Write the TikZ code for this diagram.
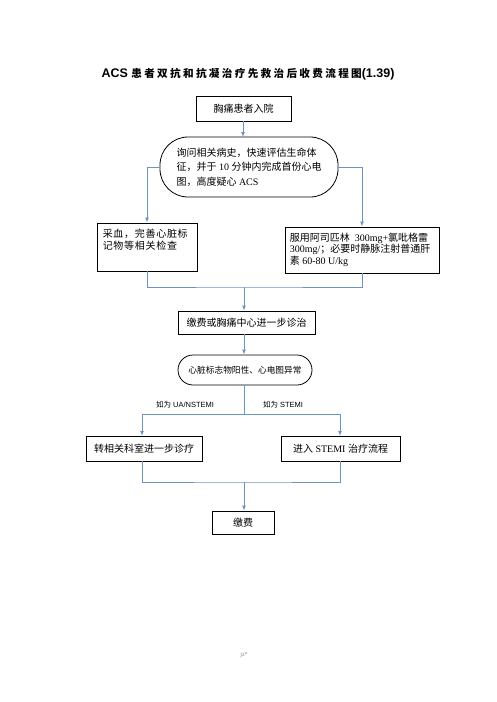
\documentclass[tikz,border=0pt]{standalone}
\usepackage{fontspec}
\setmainfont{Liberation Serif}
\setsansfont{Liberation Sans}
\newfontfamily\cjk{Noto Sans CJK SC}
\newfontfamily\cjkwide[LetterSpace=7]{Noto Sans CJK SC}
\newfontfamily\cjktitle[LetterSpace=22]{Noto Sans CJK SC Bold}
\usetikzlibrary{arrows.meta,positioning}
\definecolor{flowblue}{HTML}{6A93C6}
\newcommand{\zh}[1]{{\cjk #1}}

\begin{document}
\begin{tikzpicture}[x=1pt,y=-1pt,>={Latex[length=5pt,width=4pt]},font=\fontsize{10}{12}\selectfont]
\tikzstyle{box}=[draw,line width=0.8pt,inner sep=3pt,align=center]
\tikzstyle{capsule}=[draw,line width=0.8pt,align=left,inner sep=2pt]
\tikzstyle{link}=[flowblue,line width=1pt]
\tikzstyle{cond}=[font=\sffamily\fontsize{7.5}{9}\selectfont,inner sep=1pt]
\tikzstyle{inner}=[anchor=north west,align=left,inner sep=0pt,xshift=6pt,yshift=-6pt]
\useasboundingbox (0,0) rectangle (496,702);
% title
\node (title) at (248,74) {\sffamily\bfseries\fontsize{12.5}{14}\selectfont ACS\ {\cjktitle\fontsize{10.6}{14}\selectfont 患者双抗和抗凝治疗先救治后收费流程图}(1.39)};
% boxes
\node[box,minimum width=95,minimum height=25] (admit) at (243.5,108.5) {\zh{胸痛患者入院}};
\node[capsule,rounded corners=28pt,minimum width=178,minimum height=60,font=\fontsize{10}{14.5}\selectfont] (inquire) at (249,167)
  {\zh{询问相关病史，快速评估生命体}\\\zh{征，并于} 10 \zh{分钟内完成首份心电}\\\zh{图，高度疑心} ACS};
\node[box,minimum width=100,minimum height=48,label={[inner,font=\fontsize{10}{12.5}\selectfont]north west:{\cjkwide 采血，完善心脏标}\\{\cjkwide 记物等相关检查}}] (blood) at (147,247) {};
\node[box,minimum width=154,minimum height=46,label={[inner,xshift=-1pt,font=\fontsize{10}{11.5}\selectfont]north west:\zh{服用阿司匹林}\ \ 300mg+\zh{氯吡格雷}\\300mg/\zh{；必要时静脉注射普通肝}\\\zh{素} 60-80 U/kg}] (drug) at (362,250) {};
\node[box,minimum width=137,minimum height=23] (pay1) at (246.5,322.5) {\zh{缴费或胸痛中心进一步诊治}};
\node[capsule,rounded corners=15pt,minimum width=134,minimum height=30,align=center,font=\fontsize{8.7}{10}\selectfont] (marker) at (245,370) {\zh{心脏标志物阳性、心电图异常}};
\node[box,minimum width=116,minimum height=25] (transfer) at (144,448.5) {\zh{转相关科室进一步诊疗}};
\node[box,minimum width=119,minimum height=25] (stemi) at (340.5,448.5) {\zh{进入} STEMI \zh{治疗流程}};
\node[box,minimum width=62,minimum height=23] (pay2) at (243,522.5) {\zh{缴费}};
% connectors
\coordinate (join1) at (244,287);
\coordinate (split) at (244,414);
\coordinate (join2) at (244,482);
\draw[link,->] (243,121) -- (243,137);
\draw[link,->] (inquire.west) -| (blood.north);
\draw[link,->] (inquire.east) -| (drug.north);
\draw[link] (blood.south) |- (join1) -| (drug.south);
\draw[link,->] (join1) -- (join1 |- pay1.north);
\draw[link,->] (join1 |- pay1.south) -- (join1 |- marker.north);
\draw[link] (join1 |- marker.south) -- (split);
\draw[link,->] (split) -| (142,436);
\draw[link,->] (split) -| (340,436);
\draw[link] (142,461) |- (join2) -| (340,461);
\draw[link,->] (join2) -- (join2 |- pay2.north);
% branch labels
\node[cond] (ua) at (185,405) {\zh{如为} UA/NSTEMI};
\node[cond] (st) at (283,405) {\zh{如为} STEMI};
% footer
\node[text=gray,font=\fontsize{6}{7}\selectfont] (foot) at (244,655) {jz*};
\end{tikzpicture}
\end{document}
